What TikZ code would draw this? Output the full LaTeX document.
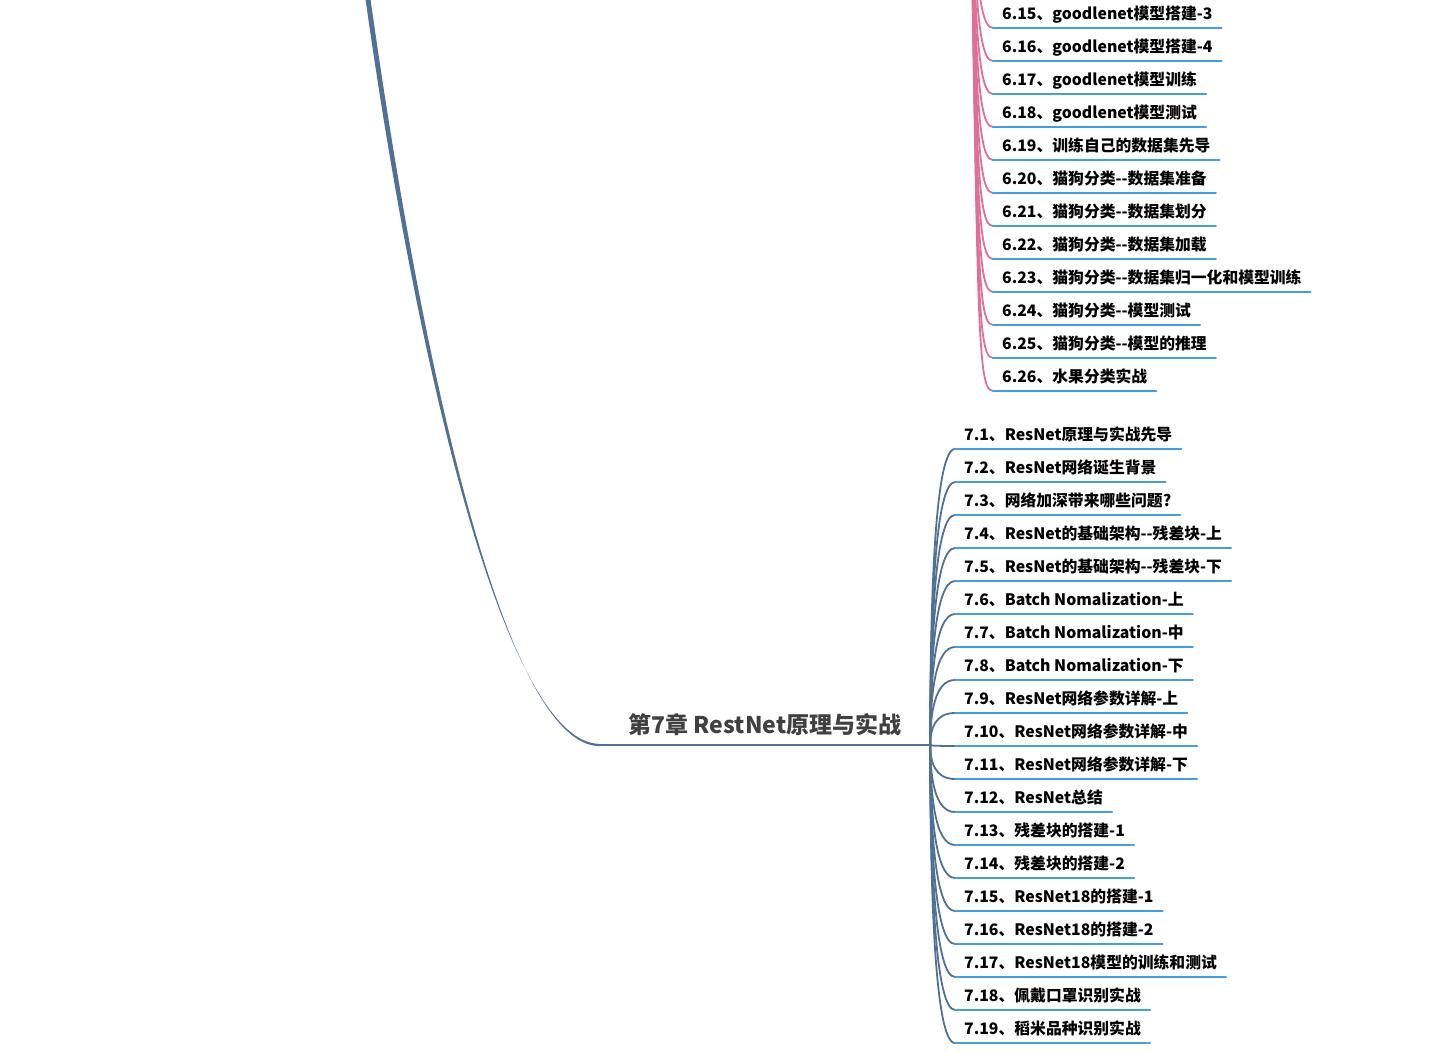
\documentclass[tikz,border=0pt]{standalone}
\usepackage{fontspec}
\newfontfamily\yahei{Noto Sans CJK SC}
\definecolor{branchblue}{RGB}{80,112,150}
\definecolor{branchpink}{RGB}{222,112,150}
\definecolor{lineblue}{RGB}{70,158,226}
\definecolor{roottext}{RGB}{64,64,64}

\begin{document}
\begin{tikzpicture}[x=1pt,y=-1pt,line cap=round]
    \tikzstyle{topic}=[anchor=south west,inner xsep=9pt,inner ysep=4pt,text height=12pt,text depth=4pt,font={\yahei\bfseries\fontsize{15.8pt}{19pt}\selectfont}]
    \tikzstyle{chapter}=[anchor=south,minimum width=330pt,inner ysep=6pt,text depth=5pt,text=roottext,font={\yahei\bfseries\fontsize{23pt}{27pt}\selectfont}]
    \tikzstyle{underline}=[draw=lineblue,line width=2pt]
    \tikzstyle{branch7}=[draw=branchblue,line width=1.8pt]
    \tikzstyle{branch6}=[draw=branchpink,line width=1.8pt]

    \useasboundingbox (0,0) rectangle (1436,1054);
    \clip (0,0) rectangle (1436,1054);

    % Parents that lie above the page
    \coordinate (main) at (367,-8);
    \coordinate (ch6) at (962,-600);

    % Chapter 7 topic and the branch coming down to it
    \node[chapter] (ch7) at (765,745) {第7章 RestNet原理与实战};
    \fill[branchblue] ([xshift=-2.5pt]main) .. controls (421.5,400) and (510,743.8) .. ([yshift=1.1pt]ch7.south west)
        -- ([yshift=-1.1pt]ch7.south west) .. controls (510,746.2) and (426.5,400) .. ([xshift=2.5pt]main) -- cycle;
    \draw[branch7] (ch7.south west) -- (ch7.south east);

    % Draw the chapter 6 subtopics (end of the list)
    \foreach \i/\txt in {15/{6.15、goodlenet模型搭建-3},16/{6.16、goodlenet模型搭建-4},17/{6.17、goodlenet模型训练},
                        18/{6.18、goodlenet模型测试},19/{6.19、训练自己的数据集先导},20/{6.20、猫狗分类--数据集准备},
                        21/{6.21、猫狗分类--数据集划分},22/{6.22、猫狗分类--数据集加载},23/{6.23、猫狗分类--数据集归一化和模型训练},
                        24/{6.24、猫狗分类--模型测试},25/{6.25、猫狗分类--模型的推理},26/{6.26、水果分类实战}}
    {
        \pgfmathsetmacro\y{28+33*(\i-15)}
        \node[topic] (s6-\i) at (993,\y) {\txt};
        \draw[branch6] (ch6) .. controls ({970+0.025*\y},\y-110) and +(-20,0) .. (s6-\i.south west);
        \draw[underline] (s6-\i.south west) -- (s6-\i.south east);
    }

    % Draw the chapter 7 subtopics
    \foreach \i/\txt in {1/{7.1、ResNet原理与实战先导},2/{7.2、ResNet网络诞生背景},3/{7.3、网络加深带来哪些问题?},
                        4/{7.4、ResNet的基础架构--残差块-上},5/{7.5、ResNet的基础架构--残差块-下},
                        6/{7.6、Batch Nomalization-上},7/{7.7、Batch Nomalization-中},8/{7.8、Batch Nomalization-下},
                        9/{7.9、ResNet网络参数详解-上},10/{7.10、ResNet网络参数详解-中},11/{7.11、ResNet网络参数详解-下},
                        12/{7.12、ResNet总结},13/{7.13、残差块的搭建-1},14/{7.14、残差块的搭建-2},
                        15/{7.15、ResNet18的搭建-1},16/{7.16、ResNet18的搭建-2},17/{7.17、ResNet18模型的训练和测试},
                        18/{7.18、佩戴口罩识别实战},19/{7.19、稻米品种识别实战}}
    {
        \pgfmathsetmacro\y{449+33*(\i-1)}
        \node[topic] (s7-\i) at (955,\y) {\txt};
        \draw[branch7] (ch7.south east) .. controls +(0,{0.5*(\y-745)}) and +(-20,0) .. (s7-\i.south west);
        \draw[underline] (s7-\i.south west) -- (s7-\i.south east);
    }
\end{tikzpicture}
\end{document}
